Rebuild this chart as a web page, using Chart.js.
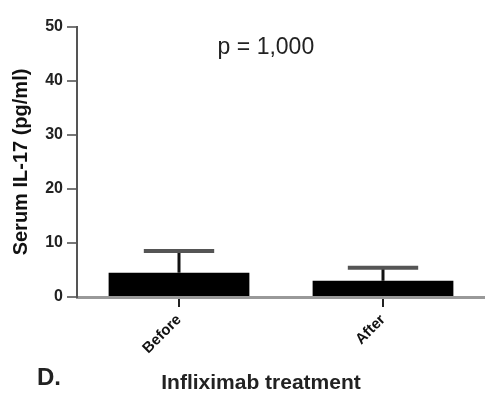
<!DOCTYPE html>
<html>
<head>
<meta charset="utf-8">
<script src="https://cdn.jsdelivr.net/npm/chart.js@4/dist/chart.umd.min.js"></script>
<style>
  html, body { margin: 0; padding: 0; background: #fff; }
  #wrap { width: 485px; height: 401px; }
</style>
</head>
<body>
<div id="wrap"><canvas id="area" width="485" height="401"></canvas></div>
<script>
  var groups = ["Before", "After"];
  var means = [4.5, 3.0];
  var sem = [4.0, 2.4];
  var yTicks = [0, 10, 20, 30, 40, 50];
  var pText = "p = 1,000";
  var panel = "D.";
  var xTitle = "Infliximab treatment";

  var font = "'Liberation Sans', Arial, sans-serif";

  // draws the upper error bars, the p value, the x title and the panel letter
  var extras = {
    id: 'extras',
    afterDatasetsDraw: function(chart) {
      var c = chart.ctx;
      var ys = chart.scales.y;
      var meta = chart.getDatasetMeta(0);
      c.save();
      meta.data.forEach(function(bar, i) {
        var top = ys.getPixelForValue(means[i] + sem[i]);
        var half = bar.width / 4;
        c.strokeStyle = '#111';
        c.lineWidth = 3;
        c.beginPath();
        c.moveTo(bar.x, bar.y);
        c.lineTo(bar.x, top);
        c.stroke();
        c.strokeStyle = '#555';
        c.lineWidth = 4;
        c.beginPath();
        c.moveTo(bar.x - half, top);
        c.lineTo(bar.x + half, top);
        c.stroke();
      });
      var a = chart.chartArea;
      c.fillStyle = '#222';
      c.font = '23px ' + font;
      c.textAlign = 'center';
      c.textBaseline = 'middle';
      c.fillText(pText, a.left + (a.right - a.left) * 0.463, ys.getPixelForValue(46.2));
      c.font = 'bold 21px ' + font;
      c.fillText(xTitle, a.left + (a.right - a.left) * 0.451, 383);
      c.font = 'bold 24px ' + font;
      c.textAlign = 'left';
      c.fillText(panel, 37, 378);
      c.restore();
    }
  };

  var ctx = document.getElementById("area");
  var myChart = new Chart(ctx, {
    type: 'bar',
    data: {
      labels: groups,
      datasets: [{
        data: means,
        backgroundColor: '#000',
        borderWidth: 0,
        categoryPercentage: 0.69,
        barPercentage: 1
      }]
    },
    options: {
      responsive: false,
      animation: false,
      layout: { padding: { left: 6, right: 0, top: 27, bottom: 8 } },
      plugins: {
        legend: { display: false },
        tooltip: { enabled: false }
      },
      scales: {
        x: {
          afterFit: function(s) { s.height = 96; },
          grid: { display: true, offset: false, drawOnChartArea: false, tickLength: 10, color: '#222', lineWidth: 2 },
          border: { color: '#999', width: 3 },
          ticks: { minRotation: 45, maxRotation: 45, padding: 4, color: '#111', font: { family: font, size: 15, weight: 'bold' } }
        },
        y: {
          min: 0,
          max: 50,
          afterFit: function(s) { s.width = 71; },
          afterBuildTicks: function(s) { s.ticks = yTicks.map(function(v) { return { value: v }; }); },
          grid: { display: true, drawOnChartArea: false, tickLength: 10, color: '#777', lineWidth: 2 },
          border: { color: '#555', width: 2 },
          ticks: { padding: 4, color: '#222', font: { family: font, size: 16, weight: 'bold' } },
          title: { display: true, text: 'Serum IL-17 (pg/ml)', color: '#111', padding: { top: 3, bottom: 0 }, font: { family: font, size: 20, weight: 'bold' } }
        }
      }
    },
    plugins: [extras]
  });
</script>
</body>
</html>
